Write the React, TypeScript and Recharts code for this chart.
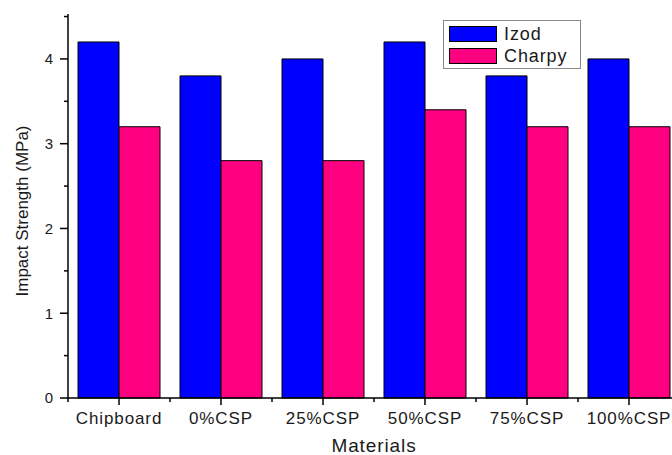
import React from 'react';
import { BarChart, Bar, XAxis, YAxis, Legend } from 'recharts';

const categories = ['Chipboard', '0%CSP', '25%CSP', '50%CSP', '75%CSP', '100%CSP'];
const izod = [4.2, 3.8, 4.0, 4.2, 3.8, 4.0];
const charpy = [3.2, 2.8, 2.8, 3.4, 3.2, 3.2];
const seriesNames = ['Izod', 'Charpy'];
const yTicks = [0, 0.5, 1, 1.5, 2, 2.5, 3, 3.5, 4, 4.5];
const yMax = 4.53;

const data = categories.map((c, i) => ({ name: c, izod: izod[i], charpy: charpy[i] }));

const FONT = '"Liberation Sans", Arial, Helvetica, sans-serif';
const TEXT = '#1a1a1a';

const XTick = (props: any) => {
  const { x, y, payload, width, visibleTicksCount } = props;
  const half = width && visibleTicksCount ? width / visibleTicksCount / 2 : 51;
  const axisY = y - 7;
  return (
    <g>
      <line x1={x - half} x2={x - half} y1={axisY} y2={axisY + 4} stroke="#000" strokeWidth={1.5} />
      <text x={x} y={axisY + 26} textAnchor="middle" fontFamily={FONT} fontSize={17} letterSpacing={0.9} fill={TEXT}>
        {payload.value}
      </text>
    </g>
  );
};

const YTick = (props: any) => {
  const { x, y, payload } = props;
  const axisX = x + 15;
  const major = Number.isInteger(payload.value);
  return (
    <g>
      <line x1={axisX - (major ? 8 : 4)} x2={axisX} y1={y} y2={y} stroke="#000" strokeWidth={1.5} />
      {major && (
        <text x={x} y={y} dy="0.36em" textAnchor="end" fontFamily={FONT} fontSize={15} fill={TEXT}>
          {payload.value}
        </text>
      )}
    </g>
  );
};

const LegendContent = (props: any) => {
  const items = [...(props.payload || [])].sort(
    (a: any, b: any) => seriesNames.indexOf(a.value) - seriesNames.indexOf(b.value)
  );
  return (
    <div
      style={{
        width: 138,
        boxSizing: 'border-box',
        border: '1px solid #8a8a8a',
        background: '#fff',
        padding: '2px 6px 1px 5px',
        fontFamily: FONT,
        fontSize: 18,
        color: TEXT,
      }}
    >
      {items.map((p: any) => (
        <div key={p.value} style={{ display: 'flex', alignItems: 'center', height: 22 }}>
          <span
            style={{
              display: 'inline-block',
              width: 46,
              height: 14,
              background: p.color,
              border: '1px solid #000',
              marginRight: 7,
            }}
          />
          <span style={{ letterSpacing: 0.9, lineHeight: '22px' }}>{p.value}</span>
        </div>
      ))}
    </div>
  );
};

const XLabel = (props: any) => {
  const vb = props.viewBox || {};
  return (
    <text
      x={vb.x + vb.width / 2}
      y={vb.y + 54}
      textAnchor="middle"
      fontFamily={FONT}
      fontSize={19}
      letterSpacing={0.9}
      fill={TEXT}
    >
      Materials
    </text>
  );
};

const YLabel = (props: any) => {
  const vb = props.viewBox || {};
  const cx = vb.x + 22;
  const cy = vb.y + vb.height / 2 + 5;
  return (
    <text
      x={cx}
      y={cy}
      dy="0.36em"
      textAnchor="middle"
      transform={`rotate(-90, ${cx}, ${cy})`}
      fontFamily={FONT}
      fontSize={17}
      fill={TEXT}
    >
      Impact Strength (MPa)
    </text>
  );
};

export default function App() {
  return (
    <div
      style={{
        position: 'fixed',
        left: 0,
        top: 0,
        width: 672,
        height: 455,
        overflow: 'hidden',
        background: '#fff',
      }}
    >
      <BarChart
        width={690}
        height={455}
        data={data}
        margin={{ top: 14, right: 10, bottom: 0, left: 0 }}
        barCategoryGap={10}
        barGap={0}
      >
        <XAxis
          dataKey="name"
          xAxisId={0}
          height={57}
          interval={0}
          tickSize={7}
          tickMargin={0}
          tickLine={{ stroke: '#000', strokeWidth: 1.5 }}
          axisLine={{ stroke: '#000', strokeWidth: 1.5 }}
          tick={<XTick />}
          label={<XLabel />}
        />
        <XAxis
          dataKey="name"
          xAxisId="top"
          orientation="top"
          height={0}
          tick={false}
          tickLine={false}
          axisLine={{ stroke: '#333', strokeWidth: 2 }}
        />
        <YAxis
          width={68}
          domain={[0, yMax]}
          ticks={yTicks}
          interval={0}
          tickSize={8}
          tickMargin={7}
          tickLine={false}
          axisLine={{ stroke: '#000', strokeWidth: 1.5 }}
          tick={<YTick />}
          label={<YLabel />}
        />
        <Legend
          layout="vertical"
          align="center"
          verticalAlign="middle"
          content={<LegendContent />}
          wrapperStyle={{ position: 'absolute', top: 20, left: 443, width: 'auto', height: 'auto' }}
        />
        <Bar dataKey="izod" name="Izod" fill="#0000FF" stroke="#000" strokeWidth={1} isAnimationActive={false} />
        <Bar dataKey="charpy" name="Charpy" fill="#FF0080" stroke="#000" strokeWidth={1} isAnimationActive={false} />
      </BarChart>
    </div>
  );
}
